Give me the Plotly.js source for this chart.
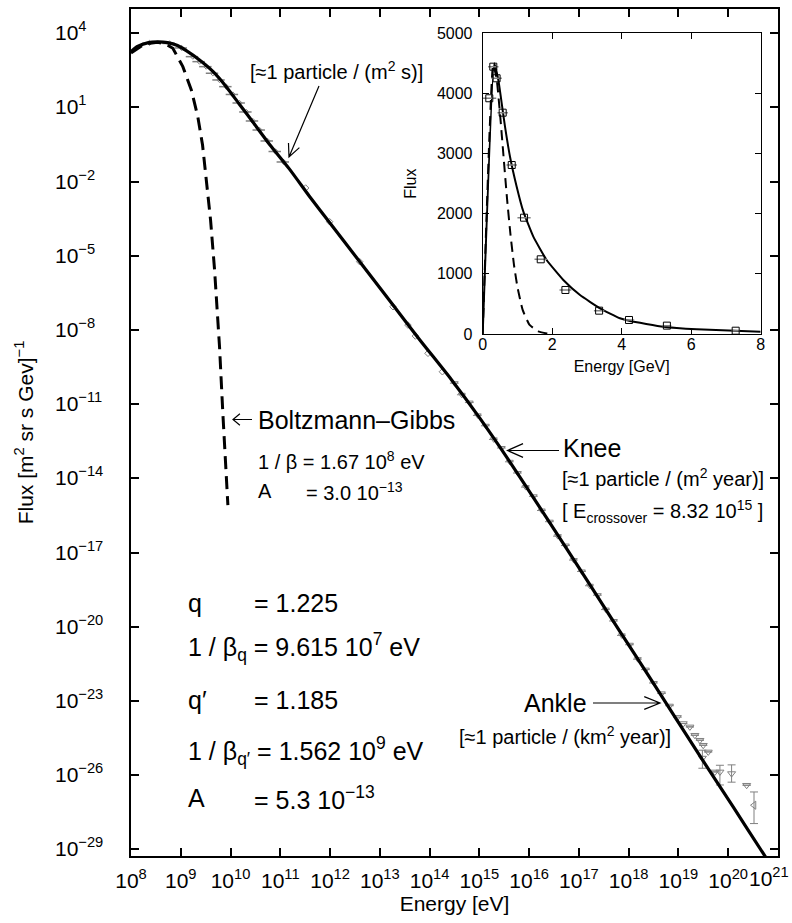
<!DOCTYPE html>
<html><head><meta charset="utf-8">
<script src="https://cdn.plot.ly/plotly-3.0.1.min.js"></script>
<style>html,body{margin:0;padding:0;background:#fff}#chart{width:792px;height:923px}</style>
</head><body><div id="chart"></div>
<script>
// ---------- data ----------
// main plot: Tsallis fit (solid)
const fitE = [1.00e8, 1.35e8, 2.15e8, 3.41e8, 5.42e8, 8.61e8, 1.29e9, 2.38e9, 4.47e9, 8.20e9, 1.52e10, 2.81e10, 6.10e10, 1.53e11, 3.87e11, 9.77e11, 3.92e12, 1.57e13, 6.32e13, 2.75e14, 1.02e15, 3.51e15, 2.23e16, 1.43e17, 6.65e17, 3.11e18, 2.64e19, 1.26e20, 5.06e20, 6.90e20];
const fitF = [1.80e3, 2.92e3, 4.06e3, 4.45e3, 4.17e3, 3.21e3, 1.98e3, 832, 280, 69.2, 13.2, 2.58, 0.318, 0.032, 2.50e-3, 2.22e-4, 5.86e-6, 1.55e-7, 4.06e-9, 9.79e-11, 2.74e-12, 7.45e-14, 2.59e-16, 8.02e-19, 6.56e-21, 5.37e-23, 6.38e-26, 5.18e-28, 6.81e-30, 2.61e-30];
// main plot: Boltzmann-Gibbs (dashed)
const bgE = [1.00e8, 1.87e8, 3.41e8, 4.94e8, 6.93e8, 1.10e9, 1.63e9, 2.20e9, 2.74e9, 3.25e9, 3.97e9, 4.78e9, 5.48e9, 6.01e9, 7.01e9, 8.20e9, 8.85e9];
const bgF = [1.60e3, 3.69e3, 4.33e3, 3.69e3, 2.47e3, 446, 50.8, 4.23, 0.303, 1.16e-2, 2.80e-4, 2.66e-6, 6.40e-8, 2.10e-9, 4.25e-12, 8.49e-15, 8.28e-16];
// low-energy measurements
const lowE = [2.35e8, 5.94e8, 1.04e9, 1.75e9, 2.38e9, 3.25e9, 4.42e9, 5.98e9, 8.20e9, 1.11e10, 1.52e10, 2.07e10, 2.81e10, 3.84e10, 5.56e10, 8.05e10, 1.17e11];
const lowF = [4060, 3860, 2540, 1130, 710, 446, 241, 129, 69.2, 33.4, 15.1, 6.55, 2.83, 1.22, 0.44, 0.165, 0.0622];
// intermediate measurements (diamonds)
const midE = [3.23e11, 9.79e11, 3.94e12, 1.84e13, 3.68e13, 5.19e13, 9.29e13, 1.81e14];
const midF = [5.52e-3, 2.39e-4, 5.77e-6, 8.71e-8, 1.58e-8, 5.69e-9, 1.14e-9, 2.05e-10];
// high-energy measurements (triangles)
const hiE = [3.20e14, 4.43e14, 6.41e14, 9.29e14, 1.35e15, 1.95e15, 2.82e15, 4.09e15, 5.93e15, 8.57e15, 1.24e16, 1.80e16, 2.61e16, 3.78e16, 5.47e16, 7.91e16, 1.15e17, 1.66e17, 2.40e17, 3.48e17, 5.05e17, 7.29e17, 1.06e18, 1.53e18, 2.22e18, 3.21e18, 4.66e18, 6.75e18, 9.75e18];
const hiF = [7.06e-11, 2.40e-11, 1.16e-11, 3.52e-12, 1.34e-12, 3.77e-13, 1.69e-13, 4.68e-14, 1.65e-14, 4.44e-15, 1.88e-15, 5.01e-16, 1.77e-16, 4.61e-17, 1.92e-17, 4.98e-18, 1.72e-18, 4.55e-19, 1.89e-19, 4.95e-20, 1.71e-20, 4.48e-21, 1.87e-21, 4.89e-22, 1.85e-22, 5.32e-23, 2.02e-23, 6.41e-24, 2.22e-24];
// ultra-high-energy tail
const tailE = [1.25e19, 1.70e19, 2.14e19, 2.70e19, 3.03e19, 3.15e19, 3.97e19, 5.41e19, 6.82e19, 1.17e20, 2.35e20, 3.30e20];
const tailF = [1.22e-24, 8.93e-25, 4.11e-25, 2.58e-25, 4.90e-26, 1.62e-25, 8.69e-26, 1.35e-26, 1.35e-26, 1.16e-26, 3.91e-27, 6.07e-28];
const tailErrUp = [0, 0, 0, 0, 5.3e-26, 0, 0, 0, 1.16e-26, 1.44e-26, 0, 1.48e-27];
const tailErrDn = [0, 0, 0, 0, 3.0e-26, 0, 0, 0, 9.5e-27, 6.4e-27, 0, 4.97e-28];
const tailSymbols = ['triangle-down-open','triangle-down-open','triangle-down-open','triangle-down-open','triangle-down-open','triangle-down-open','triangle-down-open','triangle-down-open','triangle-down-open','triangle-down-open','triangle-down-open','triangle-left-open'];

// inset (linear): data squares, fit, Boltzmann-Gibbs
const insE = [0.19, 0.305, 0.40, 0.575, 0.835, 1.19, 1.67, 2.38, 3.35, 4.21, 5.30, 7.28];
const insF = [3920, 4445, 4252, 3680, 2810, 1934, 1242, 732, 388, 233, 139, 55];
const insErrE = [0.20, 0.15, 0.15, 0.15, 0.15, 0.19, 0.18, 0.17, 0.15, 0.15, 0.13, 0.12];
const insFitE = [0, 0.33, 0.45, 0.547, 0.642, 0.786, 0.978, 1.17, 1.457, 1.84, 2.32, 2.80, 3.376, 3.95, 4.24, 5.2, 6.16, 8.0];
const insFitF = [0, 4500, 4223, 3836, 3447, 2948, 2449, 2034, 1618, 1230, 898, 648, 427, 261, 216, 121, 78, 38];
const insBgE = [0, 0.30, 0.40, 0.50, 0.60, 0.70, 0.80, 0.90, 1.00, 1.15, 1.35, 1.60, 1.85, 2.0];
const insBgF = [0, 4480, 4250, 3650, 2950, 2250, 1650, 1150, 780, 400, 150, 45, 10, 0];

// tick labels
const yTickExp = [4, 1, -2, -5, -8, -11, -14, -17, -20, -23, -26, -29];
const yTickText = yTickExp.map(e => '10<sup>' + (e < 0 ? '\u2212' + (-e) : e) + '</sup>');
const xTickExp = [8, 9, 10, 11, 12, 13, 14, 15, 16, 17, 18, 19, 20, 21];
const xTickVals = [1e8, 1e9, 1e10, 1e11, 1e12, 1e13, 1e14, 1e15, 1e16, 1e17, 1e18, 1e19, 1e20, 1e21];
const xTickText = xTickExp.map(e => '10<sup>' + e + '</sup>');

// ---------- layout helpers ----------
const FONT = 'Liberation Sans, Arial, Helvetica, sans-serif';
const L = 131, T = 9, W = 647, H = 847;
const PX = x => (x - L) / W;
const PY = y => (T + H - y) / H;
const GRAY = '#808080';

function label(x, y, text, size) {
  return {xref: 'paper', yref: 'paper', x: PX(x), y: PY(y), xanchor: 'left', yanchor: 'middle',
          text: text, showarrow: false, font: {family: FONT, size: size, color: '#000'}};
}
function arrowShape(tail, tip, len, ang) {
  const dx = tail[0] - tip[0], dy = tail[1] - tip[1];
  const n = Math.hypot(dx, dy), ux = dx / n, uy = dy / n;
  const a = ang * Math.PI / 180, c = Math.cos(a), s = Math.sin(a);
  const a1 = [tip[0] + len * (ux * c - uy * s), tip[1] + len * (ux * s + uy * c)];
  const a2 = [tip[0] + len * (ux * c + uy * s), tip[1] + len * (-ux * s + uy * c)];
  const p = q => PX(q[0]).toFixed(5) + ',' + PY(q[1]).toFixed(5);
  return {type: 'path', xref: 'paper', yref: 'paper',
          path: 'M' + p(tail) + 'L' + p(tip) + 'M' + p(a1) + 'L' + p(tip) + 'L' + p(a2),
          line: {color: '#000', width: 1.2}};
}

// ---------- traces ----------
const traces = [
  {x: lowE, y: lowF, type: 'scatter', mode: 'markers', xaxis: 'x', yaxis: 'y',
   marker: {symbol: 'diamond-open', size: 4, color: GRAY, line: {width: 1, color: GRAY}},
   error_x: {type: 'percent', value: 28, width: 0, thickness: 1.5, color: GRAY}},
  {x: midE, y: midF, type: 'scatter', mode: 'markers', xaxis: 'x', yaxis: 'y',
   marker: {symbol: 'diamond-open', size: 5, color: GRAY, line: {width: 1, color: GRAY}}},
  {x: hiE, y: hiF, type: 'scatter', mode: 'markers', xaxis: 'x', yaxis: 'y',
   marker: {symbol: 'triangle-down-open', size: 6, color: GRAY, line: {width: 1, color: GRAY}},
   error_x: {type: 'percent', value: 20, width: 0, thickness: 1, color: GRAY}},
  {x: tailE, y: tailF, type: 'scatter', mode: 'markers', xaxis: 'x', yaxis: 'y',
   marker: {symbol: tailSymbols, size: 7, color: GRAY, line: {width: 1, color: GRAY}},
   error_y: {type: 'data', array: tailErrUp, arrayminus: tailErrDn, width: 4, thickness: 1, color: GRAY}},
  {x: bgE, y: bgF, type: 'scatter', mode: 'lines', xaxis: 'x', yaxis: 'y',
   line: {color: '#000', width: 3, dash: '13px,7px'}},
  {x: fitE, y: fitF, type: 'scatter', mode: 'lines', xaxis: 'x', yaxis: 'y',
   line: {color: '#000', width: 3.2, shape: 'spline', smoothing: 0.6}},
  // inset
  {x: insBgE, y: insBgF, type: 'scatter', mode: 'lines', xaxis: 'x2', yaxis: 'y2',
   line: {color: '#000', width: 2, dash: '10px,6px', shape: 'spline', smoothing: 0.4}},
  {x: insFitE, y: insFitF, type: 'scatter', mode: 'lines', xaxis: 'x2', yaxis: 'y2',
   line: {color: '#000', width: 2, shape: 'spline', smoothing: 0.4}},
  {x: insE, y: insF, type: 'scatter', mode: 'markers', xaxis: 'x2', yaxis: 'y2',
   marker: {symbol: 'square-open', size: 7, color: '#000', line: {width: 1, color: '#000'}},
   error_x: {type: 'data', array: insErrE, width: 0, thickness: 1.5, color: GRAY}}
];

// ---------- annotations ----------
const annotations = [];
yTickExp.forEach((e, i) => annotations.push({
  xref: 'paper', yref: 'y', x: PX(53), y: e, xanchor: 'left', yanchor: 'middle',
  text: yTickText[i], showarrow: false, yshift: 2, font: {family: FONT, size: 21, color: '#000'}}));
// the last x tick label sits flush with the right edge of the figure (as in the reference)
const lastX = xTickText.length - 1;
const axisTickText = xTickText.map((t, i) => i === lastX ? '' : t);
annotations.push({xref: 'paper', yref: 'paper', x: PX(791), y: PY(877), xanchor: 'right', yanchor: 'middle',
  text: xTickText[lastX], showarrow: false, font: {family: FONT, size: 21, color: '#000'}});
annotations.push(
  label(248, 70, '[\u22481 particle / (m<sup>2</sup> s)]', 20),
  label(256, 420, 'Boltzmann\u2013Gibbs', 25),
  label(256, 460, '1 / \u03b2 = 1.67 10<sup>8</sup> eV', 20),
  label(256, 491, 'A', 20),
  label(304, 491, '= 3.0 10<sup>\u221213</sup>', 20),
  label(561, 448, 'Knee', 25),
  label(560, 477, '[\u22481 particle / (m<sup>2</sup> year)]', 20),
  label(560, 512, '[ E<sub>crossover</sub> = 8.32 10<sup>15</sup> ]', 20),
  label(522, 703, 'Ankle', 25),
  label(457, 735, '[\u22481 particle / (km<sup>2</sup> year)]', 20),
  label(186, 603, 'q', 25),
  label(252, 603, '= 1.225', 25),
  label(186, 647, '1 / \u03b2<sub>q</sub> = 9.615 10<sup>7</sup> eV', 25),
  label(186, 700, 'q\u2032', 25),
  label(252, 700, '= 1.185', 25),
  label(186, 751, '1 / \u03b2<sub>q\u2032</sub> = 1.562 10<sup>9</sup> eV', 25),
  label(186, 798, 'A', 25),
  label(252, 798, '= 5.3 10<sup>\u221213</sup>', 25)
);

const shapes = [
  arrowShape([319, 86], [289, 157], 14, 25),
  arrowShape([252, 419.5], [233, 419.5], 9, 40),
  arrowShape([559, 450.5], [507.5, 450.5], 17, 24),
  arrowShape([593, 703], [660, 703], 17, 22)
];

const axisCommon = {showgrid: false, zeroline: false, showline: true, linecolor: '#000',
  ticks: 'inside', tickcolor: '#000', mirror: 'ticks'};

const layout = {
  width: 792, height: 923,
  margin: {l: L, r: 792 - L - W, t: T, b: 923 - T - H, pad: 0},
  paper_bgcolor: '#fff', plot_bgcolor: '#fff',
  showlegend: false,
  font: {family: FONT, color: '#000'},
  xaxis: Object.assign({}, axisCommon, {
    type: 'log', range: [8, 21.0008], tickmode: 'array', tickvals: xTickVals, ticktext: axisTickText,
    tickangle: 0, linewidth: 2, tickwidth: 2, ticklen: 8,
    tickfont: {family: FONT, size: 21, color: '#000'},
    ticklabelstandoff: 5, domain: [0, 1], anchor: 'y',
    title: {text: 'Energy [eV]', font: {family: FONT, size: 21}, standoff: 4}}),
  yaxis: Object.assign({}, axisCommon, {
    type: 'log', range: [-29.27, 4.98], tick0: 1, dtick: 3, showticklabels: false,
    linewidth: 2, tickwidth: 2, ticklen: 8, domain: [0, 1], anchor: 'x',
    title: {text: 'Flux [m<sup>2</sup> sr s Gev]<sup>\u22121</sup>', font: {family: FONT, size: 21}, standoff: 90}}),
  xaxis2: Object.assign({}, axisCommon, {
    range: [0, 8], dtick: 2, linewidth: 1, tickwidth: 1, ticklen: 6,
    tickfont: {family: FONT, size: 16}, domain: [PX(482.7), PX(760.7)], anchor: 'y2',
    ticklabelstandoff: -4,
    title: {text: 'Energy [GeV]', font: {family: FONT, size: 16}, standoff: 8}}),
  yaxis2: Object.assign({}, axisCommon, {
    range: [0, 5000], dtick: 1000, linewidth: 1, tickwidth: 1, ticklen: 6,
    tickfont: {family: FONT, size: 16}, domain: [PY(334), PY(33.3)], anchor: 'x2',
    ticklabelstandoff: 6,
    title: {text: 'Flux', font: {family: FONT, size: 16}, standoff: 16}}),
  annotations: annotations,
  shapes: shapes
};

Plotly.newPlot('chart', traces, layout, {displayModeBar: false, staticPlot: true});
</script></body></html>
